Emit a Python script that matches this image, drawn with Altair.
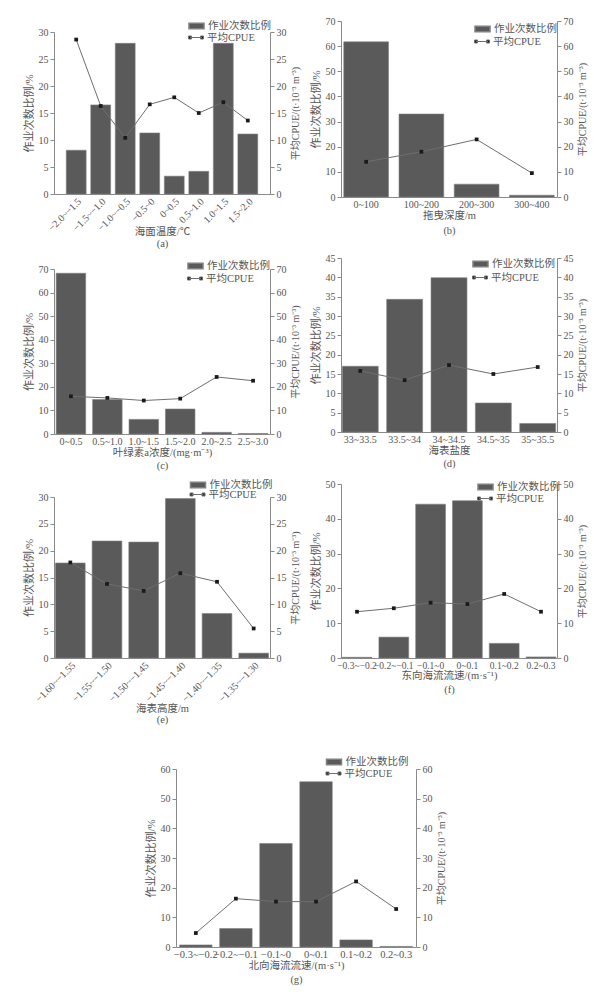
import altair as alt
import pandas as pd

FONT = "Liberation Serif, Times New Roman, Noto Sans CJK SC, serif"
TXT = "#555555"
AXC = "#8a8a8a"
BAR = "#5a5a5a"
LINE = "#6e6e6e"
MARK = "#1a1a1a"

BAR_LABEL = "作业次数比例"
LINE_LABEL = "平均CPUE"
Y_LEFT = "作业次数比例/%"
Y_RIGHT = "平均CPUE/(t·10⁻³ m⁻³)"

# (a) sea surface temperature
a_cats = ["−2.0~−1.5", "−1.5~−1.0", "−1.0~−0.5", "−0.5~0", "0~0.5", "0.5~1.0", "1.0~1.5", "1.5~2.0"]
a_share = [8.1, 16.5, 27.9, 11.3, 3.3, 4.2, 27.9, 11.1]
a_cpue = [28.6, 16.3, 10.4, 16.6, 17.9, 15.0, 17.0, 13.6]

# (b) trawl depth
b_cats = ["0~100", "100~200", "200~300", "300~400"]
b_share = [61.7, 33.0, 5.1, 0.7]
b_cpue = [14.0, 18.0, 22.9, 9.5]

# (c) chlorophyll a
c_cats = ["0~0.5", "0.5~1.0", "1.0~1.5", "1.5~2.0", "2.0~2.5", "2.5~3.0"]
c_share = [68.2, 14.6, 6.2, 10.6, 0.7, 0.2]
c_cpue = [16.0, 15.3, 14.2, 15.0, 24.2, 22.6]

# (d) sea surface salinity
d_cats = ["33~33.5", "33.5~34", "34~34.5", "34.5~35", "35~35.5"]
d_share = [17.0, 34.3, 39.9, 7.5, 2.2]
d_cpue = [15.8, 13.4, 17.3, 15.0, 16.8]

# (e) sea surface height
e_cats = ["−1.60~−1.55", "−1.55~−1.50", "−1.50~−1.45", "−1.45~−1.40", "−1.40~−1.35", "−1.35~−1.30"]
e_share = [17.7, 21.8, 21.6, 29.7, 8.3, 0.9]
e_cpue = [17.8, 13.8, 12.5, 15.8, 14.2, 5.5]

# (f) eastward current
f_cats = ["−0.3~−0.2", "−0.2~−0.1", "−0.1~0", "0~0.1", "0.1~0.2", "0.2~0.3"]
f_share = [0.2, 6.0, 44.2, 45.2, 4.2, 0.3]
f_cpue = [13.3, 14.3, 15.9, 15.5, 18.4, 13.3]

# (g) northward current
g_cats = ["−0.3~−0.2", "−0.2~−0.1", "−0.1~0", "0~0.1", "0.1~0.2", "0.2~0.3"]
g_share = [0.7, 6.2, 34.9, 55.7, 2.4, 0.2]
g_cpue = [4.7, 16.3, 15.3, 15.3, 22.1, 12.8]

BAR_SYMBOL = "M-1,-0.36H1V0.36H-1Z"
LINE_SYMBOL = "M-0.8,0H0.8M-1,-0.2H-0.6V0.2H-1ZM0.6,-0.2H1V0.2H0.6Z"


def spacer(x0, x1, y0, y1):
    # invisible layout helper that fixes the bounding box of a panel
    return alt.Chart(alt.Data(values=[{}])).mark_rule(opacity=0).encode(
        x=alt.value(x0), x2=alt.value(x1), y=alt.value(y0), y2=alt.value(y1))


def blank(w, h):
    return spacer(0, w, 0, h).properties(width=w, height=h)


def panel(cats, share, cpue, ymax, ystep, W, H, xtitle, tag, angle, po,
          tpad, tlh, leg, box, lfs=10):
    L, T, R, B = box
    lx, ly1, ly2 = leg
    df = pd.DataFrame({"cat": cats, "share": share, "cpue": cpue,
                       "sb": [BAR_LABEL] * len(cats), "sl": [LINE_LABEL] * len(cats)})
    base = alt.Chart(df)
    xenc = alt.X(
        "cat:N", sort=cats,
        scale=alt.Scale(paddingInner=0.19, paddingOuter=po),
        axis=alt.Axis(title=[xtitle, tag], labelAngle=angle, ticks=False,
                      labelOverlap=False, labelPadding=2, labelFontSize=lfs,
                      titlePadding=tpad, titleLineHeight=tlh, titleFontSize=10.5),
    )
    ticks = list(range(0, ymax + 1, ystep))
    yscale = alt.Scale(domain=[0, ymax], nice=False)
    bars = base.mark_bar(stroke="#808080", strokeWidth=0.6).encode(
        x=xenc,
        y=alt.Y("share:Q", scale=yscale,
                axis=alt.Axis(orient="left", title=Y_LEFT, values=ticks,
                              titleFontSize=11, titlePadding=4)),
        fill=alt.Fill(
            "sb:N",
            scale=alt.Scale(domain=[BAR_LABEL], range=[BAR]),
            legend=alt.Legend(title=None, orient="none", legendX=lx - 7.5,
                              legendY=ly1 - 7.5, symbolType=BAR_SYMBOL,
                              symbolSize=225, labelOffset=3)),
    )
    yright = alt.Y("cpue:Q", scale=yscale,
                   axis=alt.Axis(orient="right", title=Y_RIGHT, values=ticks,
                                 titleFontSize=10, titleAngle=270,
                                 titleBaseline="top", titlePadding=4))
    line = base.mark_line(strokeWidth=1).encode(
        x=xenc, y=yright,
        stroke=alt.Stroke(
            "sl:N",
            scale=alt.Scale(domain=[LINE_LABEL], range=[LINE]),
            legend=alt.Legend(title=None, orient="none", legendX=lx - 7.5,
                              legendY=ly2 - 7.5, symbolType=LINE_SYMBOL,
                              symbolSize=225, symbolFillColor=MARK,
                              symbolStrokeWidth=1, labelOffset=3)),
    )
    pts = base.mark_point(shape="square", filled=True, size=14, color=MARK,
                          opacity=1).encode(x=xenc, y=yright)
    return (alt.layer(bars, alt.layer(line, pts), spacer(-L, W + R, -T, H + B))
            .resolve_scale(y="independent")
            .properties(width=W, height=H))


pa = panel(a_cats, a_share, a_cpue, 30, 5, 216, 162, "海面温度/℃", "(a)", 315, 0.5,
           -6, 12, (141.5, -7, 5), (45, 20, 35, 57))
pc = panel(c_cats, c_share, c_cpue, 70, 10, 216, 165, "叶绿素a浓度/(mg·m⁻³)", "(c)", 0, 0.06,
           1, 13, (140.5, -4, 9), (45, 16, 35, 40))
pe = panel(e_cats, e_share, e_cpue, 30, 5, 216, 161, "海表高度/m", "(e)", 315, 0.04,
           0, 11, (143, -13, -3), (45, 21, 35, 85))

pb = panel(b_cats, b_share, b_cpue, 70, 10, 216, 176, "拖曳深度/m", "(b)", 0, 0.05,
           1, 15, (140.5, 7, 20), (34, 9, 35, 46))
pd_ = panel(d_cats, d_share, d_cpue, 45, 5, 216, 174, "海表盐度", "(d)", 0, 0.03,
            1, 13, (138.5, 5, 19), (34, 13, 35, 41))
pf = panel(f_cats, f_share, f_cpue, 50, 10, 216, 174, "东向海流流速/(m·s⁻¹)", "(f)", 0, 0.03,
           1, 14, (143.5, 2, 14), (34, 9, 35, 85), lfs=9.5)

pg = panel(g_cats, g_share, g_cpue, 60, 10, 240, 178, "北向海流流速/(m·s⁻¹)", "(g)", 0, 0.09,
           1, 14, (157, -8, 4), (45, 24, 35, 42), lfs=10.5)

ind = dict(fill="independent", stroke="independent", x="independent", y="independent")

left_col = alt.vconcat(blank(10, 1), pa, pc, pe, spacing=0).resolve_scale(**ind)
right_col = alt.vconcat(blank(10, 1), pb, pd_, pf, spacing=0).resolve_scale(**ind)
top_block = alt.hconcat(left_col, right_col, spacing=0).resolve_scale(**ind)
g_row = alt.hconcat(blank(75, 1), pg, spacing=0).resolve_scale(**ind)

chart = (
    alt.vconcat(top_block, g_row, spacing=0)
    .resolve_scale(**ind)
    .properties(padding=0)
    .configure_view(stroke="transparent")
    .configure_axis(labelFont=FONT, labelFontSize=10, labelColor=TXT,
                    titleFont=FONT, titleColor=TXT, titleFontWeight="normal",
                    domainColor=AXC, tickColor=AXC, tickSize=4, grid=False)
    .configure_legend(labelFont=FONT, labelFontSize=10.5, labelColor=TXT,
                      padding=0, rowPadding=0)
)

chart.save("out.html", embed_options={"renderer": "svg", "actions": False})
